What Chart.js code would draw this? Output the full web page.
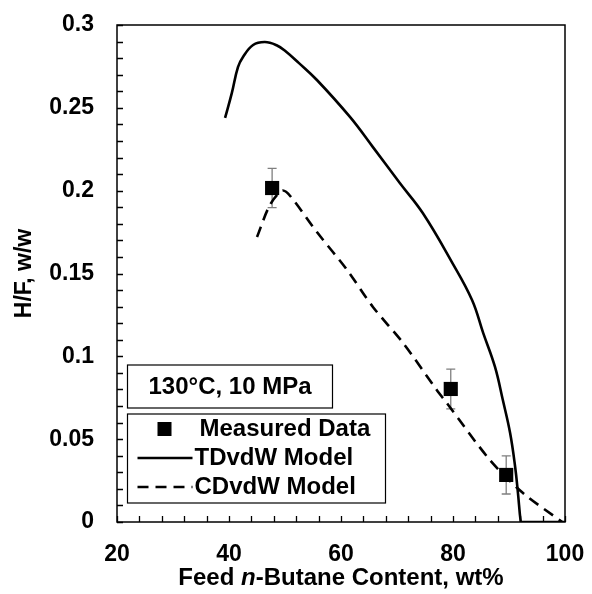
<!DOCTYPE html>
<html>
<head>
<meta charset="utf-8">
<script src="https://cdn.jsdelivr.net/npm/chart.js@4.4.0/dist/chart.umd.min.js"></script>
<style>
    html, body { margin: 0; padding: 0; background: #fff; }
    #divChart { width: 592px; height: 594px; }
</style>
</head>
<body>
<div id="divChart"><canvas id="cnvChart"></canvas></div>
<script>
/**
 * DATA
 */
// measured H/F with error bars
const measuredX = [47.7, 79.6, 89.5];
const measuredY = [0.2016, 0.0803, 0.0284];
const measuredErr = [0.0118, 0.012, 0.0115];

// TDvdW model curve
const tdX = [39.3, 40.5, 41.6, 42.5, 44.3, 46.4, 48.5, 50.0, 52.5, 55.7, 61.6, 65.7, 70.5, 74.6, 79.8, 83.4, 85.4, 87.5, 88.9, 90.2, 91.1, 91.6, 92.1, 92.3, 100];
const tdY = [0.2439, 0.2589, 0.2746, 0.2807, 0.2879, 0.2897, 0.2878, 0.2845, 0.277, 0.2668, 0.2445, 0.2263, 0.2046, 0.1865, 0.1569, 0.134, 0.114, 0.0936, 0.0736, 0.0537, 0.0332, 0.0175, 0, 0, 0];

// CDvdW model curve
const cdX = [45.0, 47.3, 49.5, 51.0, 55.7, 61.1, 65.7, 71.1, 77.1, 78.9, 86.6, 92.5, 99.5];
const cdY = [0.172, 0.1913, 0.2, 0.1965, 0.175, 0.1521, 0.1298, 0.108, 0.0797, 0.0718, 0.0374, 0.0175, 0];

// axes
const xTicks = [20, 40, 60, 80, 100];
const yTicks = [0, 0.05, 0.1, 0.15, 0.2, 0.25, 0.3];
const xMinorStep = 4;
const yMinorStep = 0.01;

const xTitleParts = [['Feed ', false], ['n', true], ['-Butane Content, wt%', false]];
const yTitle = 'H/F, w/w';
const conditionText = '130°C, 10 MPa';
const legendLabels = ['Measured Data', 'TDvdW Model', 'CDvdW Model'];

const FONT = '"Liberation Sans", Arial, sans-serif';

/**
 * FUNCTIONS
 */

/**
 * zip two arrays into {x, y} points
 */
function ToPoints(xs, ys) {
    return xs.map((x, i) => ({ x: x, y: ys[i] }));
}

/**
 * no label overflow padding, we place the plot area ourselves
 */
function NoScalePadding(s) {
    s.paddingLeft = 0;
    s.paddingRight = 0;
    s.paddingTop = 0;
    s.paddingBottom = 0;
}

/**
 * draws frame, inward ticks, error bars, boxes and x title
 */
const decorPlugin = {
    id: 'decor',
    beforeDatasetsDraw(chart) {
        const ctx = chart.ctx;
        const xs = chart.scales.x;
        const ys = chart.scales.y;
        // error bars
        ctx.save();
        ctx.strokeStyle = '#7f7f7f';
        ctx.lineWidth = 1.3;
        for (let i = 0; i < measuredX.length; i++) {
            let px = xs.getPixelForValue(measuredX[i]);
            let pTop = ys.getPixelForValue(measuredY[i] + measuredErr[i]);
            let pBot = ys.getPixelForValue(measuredY[i] - measuredErr[i]);
            ctx.beginPath();
            ctx.moveTo(px, pTop); ctx.lineTo(px, pBot);
            ctx.moveTo(px - 4.5, pTop); ctx.lineTo(px + 4.5, pTop);
            ctx.moveTo(px - 4.5, pBot); ctx.lineTo(px + 4.5, pBot);
            ctx.stroke();
        }
        ctx.restore();
    },
    afterDatasetsDraw(chart) {
        const ctx = chart.ctx;
        const xs = chart.scales.x;
        const ys = chart.scales.y;
        const { left, right, top, bottom } = chart.chartArea;

        ctx.save();
        // frame
        ctx.strokeStyle = '#000';
        ctx.lineWidth = 1.5;
        ctx.strokeRect(left, top, right - left, bottom - top);

        // inward ticks
        ctx.beginPath();
        for (let v = xTicks[0]; v <= xTicks[xTicks.length - 1] + 1e-9; v += xMinorStep) {
            let px = Math.round(xs.getPixelForValue(v)) + 0.5;
            ctx.moveTo(px, bottom);
            ctx.lineTo(px, bottom - 6);
        }
        for (let v = yTicks[0]; v <= yTicks[yTicks.length - 1] + 1e-9; v += yMinorStep) {
            let py = Math.round(ys.getPixelForValue(v)) + 0.5;
            ctx.moveTo(left, py);
            ctx.lineTo(left + 6, py);
        }
        ctx.lineWidth = 1.3;
        ctx.stroke();

        // condition box
        ctx.lineWidth = 1.2;
        ctx.fillStyle = '#fff';
        ctx.fillRect(left + 10.5, bottom - 157, 205, 43);
        ctx.strokeRect(left + 10.5, bottom - 157, 205, 43);
        ctx.fillStyle = '#000';
        ctx.font = 'bold 24px ' + FONT;
        ctx.textAlign = 'center';
        ctx.textBaseline = 'middle';
        ctx.fillText(conditionText, left + 113, bottom - 135);

        // legend box
        let lx = left + 10.5, ly = bottom - 108, lw = 258, lh = 89;
        ctx.fillStyle = '#fff';
        ctx.fillRect(lx, ly, lw, lh);
        ctx.strokeRect(lx, ly, lw, lh);
        ctx.fillStyle = '#000';
        ctx.textAlign = 'left';
        let rowY = [ly + 15, ly + 44, ly + 73];
        // marker
        ctx.fillRect(lx + 30, rowY[0] - 7, 14, 14);
        ctx.fillText(legendLabels[0], lx + 72, rowY[0]);
        // solid line
        ctx.lineWidth = 2.5;
        ctx.beginPath();
        ctx.moveTo(lx + 10, rowY[1]); ctx.lineTo(lx + 65, rowY[1]);
        ctx.stroke();
        ctx.fillText(legendLabels[1], lx + 67, rowY[1]);
        // dashed line
        ctx.setLineDash([11, 7]);
        ctx.beginPath();
        ctx.moveTo(lx + 10, rowY[2]); ctx.lineTo(lx + 65, rowY[2]);
        ctx.stroke();
        ctx.setLineDash([]);
        ctx.fillText(legendLabels[2], lx + 67, rowY[2]);

        // x axis title with italic n
        let widths = xTitleParts.map(p => {
            ctx.font = (p[1] ? 'italic bold 24px ' : 'bold 24px ') + FONT;
            return ctx.measureText(p[0]).width;
        });
        let total = widths.reduce((a, b) => a + b, 0);
        let tx = (left + right) / 2 - total / 2;
        xTitleParts.forEach((p, i) => {
            ctx.font = (p[1] ? 'italic bold 24px ' : 'bold 24px ') + FONT;
            ctx.fillText(p[0], tx, 578);
            tx += widths[i];
        });
        ctx.restore();
    }
};

/**
 * creates the chart
 */
function PaintChart() {
    let canvas = document.querySelector('#cnvChart');
    let myChart = new Chart(canvas, {
        type: 'scatter',
        data: {
            datasets: [{
                label: legendLabels[0],
                data: ToPoints(measuredX, measuredY),
                showLine: false,
                pointStyle: 'rect',
                pointRadius: 10,
                pointHoverRadius: 10,
                backgroundColor: '#000',
                borderColor: '#000',
                borderWidth: 0
            }, {
                label: legendLabels[1],
                data: ToPoints(tdX, tdY),
                showLine: true,
                borderColor: '#000',
                borderWidth: 2.6,
                pointRadius: 0,
                tension: 0.4
            }, {
                label: legendLabels[2],
                data: ToPoints(cdX, cdY),
                showLine: true,
                borderColor: '#000',
                borderWidth: 2.6,
                borderDash: [11, 7],
                pointRadius: 0,
                tension: 0.3
            }]
        },
        options: {
            responsive: true,
            maintainAspectRatio: false,
            animation: false,
            layout: { padding: { top: 25, right: 27, left: 0, bottom: 0 } },
            plugins: {
                legend: { display: false },
                tooltip: { enabled: false }
            },
            scales: {
                x: {
                    type: 'linear',
                    min: xTicks[0],
                    max: xTicks[xTicks.length - 1],
                    afterBuildTicks: s => { s.ticks = xTicks.map(v => ({ value: v })); },
                    afterFit: s => { s.height = 72; NoScalePadding(s); },
                    grid: { display: false, drawTicks: false },
                    border: { display: false },
                    ticks: {
                        padding: 19,
                        color: '#000',
                        font: { family: FONT, size: 23, weight: 'bold' },
                        maxRotation: 0,
                        callback: v => String(v)
                    },
                    title: { display: false }
                },
                y: {
                    type: 'linear',
                    min: yTicks[0],
                    max: yTicks[yTicks.length - 1],
                    afterBuildTicks: s => { s.ticks = yTicks.map(v => ({ value: v })); },
                    afterFit: s => { s.width = 117; NoScalePadding(s); },
                    grid: { display: false, drawTicks: false },
                    border: { display: false },
                    ticks: {
                        padding: 23,
                        color: '#000',
                        font: { family: FONT, size: 23, weight: 'bold' },
                        callback: v => String(Math.round(v * 100) / 100)
                    },
                    title: {
                        display: true,
                        text: yTitle,
                        color: '#000',
                        font: { family: FONT, size: 23, weight: 'bold' },
                        padding: { top: 11, bottom: 0 }
                    }
                }
            }
        },
        plugins: [decorPlugin]
    });
}

PaintChart();
</script>
</body>
</html>
